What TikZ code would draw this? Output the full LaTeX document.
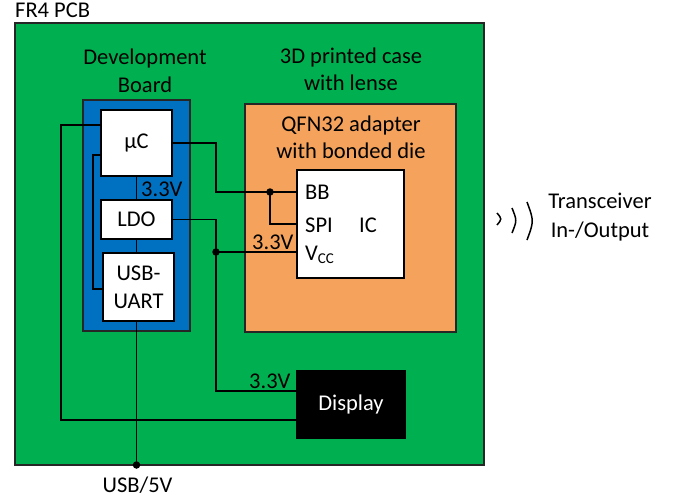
\documentclass[tikz,border=0pt]{standalone}
\usepackage{fontspec}
\setmainfont{Carlito}
\definecolor{pcbgreen}{HTML}{00B050}
\definecolor{boardblue}{HTML}{0070C0}
\definecolor{caseorange}{HTML}{F4A25C}
\begin{document}
\begin{tikzpicture}[x=1pt,y=-1pt,
  font=\fontsize{22.5}{28}\selectfont,
  wire/.style={draw=black, line width=1.6pt},
  area/.style={draw=black!85, line width=1.4pt, inner sep=0pt},
  box/.style={draw=black, fill=white, line width=1.2pt, align=center, inner sep=0pt},
  dot/.style={circle, fill=black, inner sep=0pt, minimum size=7.5pt},
  lbl/.style={inner sep=0pt, anchor=base west},
  clbl/.style={inner sep=0pt, anchor=base}]
\useasboundingbox (0,0) rectangle (677,499);
% areas
\node[area, fill=pcbgreen, minimum width=469pt, minimum height=442pt] (pcb) at (249.5,244) {};
\node[area, fill=boardblue, minimum width=107pt, minimum height=231pt] (board) at (136.5,215.5) {};
\node[area, fill=caseorange, minimum width=211pt, minimum height=228pt] (case) at (350.5,218) {};
% boxes
\node[box, minimum width=71pt, minimum height=66pt] (mc) at (136.5,143) {µC};
\node[box, minimum width=71pt, minimum height=39pt] (ldo) at (136.5,219.5) {LDO};
\node[box, minimum width=71pt, minimum height=68pt] (usb) at (138.5,287) {USB-\\UART};
\node[box, minimum width=107pt, minimum height=108pt] (ic) at (350.5,224) {};
\node[box, fill=black, text=white, minimum width=108pt, minimum height=67pt] (disp) at (351,404.5) {Display};
% texts
\node[lbl] (t1) at (15,17) {FR4 PCB};
\node[clbl] (t2) at (145,64) {Development};
\node[clbl] (t3) at (145,92) {Board};
\node[clbl] (t4) at (351,63) {3D printed case};
\node[clbl] (t5) at (351,90) {with lense};
\node[clbl] (t6) at (351,131.5) {QFN32 adapter};
\node[clbl] (t7) at (351,158.5) {with bonded die};
\node[lbl] (pbb) at (305,199) {BB};
\node[lbl] (pspi) at (305,232) {SPI};
\node[lbl] (pic) at (359,232) {IC};
\node[lbl] (pvcc) at (305,260) {V\raisebox{-0.35ex}{\fontsize{15}{15}\selectfont CC}};
\node[lbl] (v1) at (141,196) {3.3V};
\node[lbl] (v2) at (252,249) {3.3V};
\node[lbl] (v3) at (249,388) {3.3V};
\node[clbl] (tr1) at (600,208) {Transceiver};
\node[clbl] (tr2) at (600,237) {In-/Output};
\node[clbl] (u5) at (137.5,492) {USB/5V};
% wires
\coordinate (j1) at (61,125);
\coordinate (j2) at (61,420);
\draw[wire] (mc.west |- j1) -- (j1) -- (j2) -- (disp.west |- j2);
\coordinate (k1) at (93,155);
\coordinate (k2) at (93,289);
\draw[wire] (mc.west |- k1) -- (k1) -- (k2) -- (usb.west |- k2);
\draw[wire] (mc.south) -- (ldo.north);
\draw[wire] (ldo.south) -- (ldo.south |- usb.north);
\coordinate (usbpin) at (136.5,465);
\draw[wire] (usbpin |- usb.south) -- (usbpin);
\node[dot] (usbdot) at (usbpin) {};
\coordinate (m2) at (216,192);
\draw[wire] (mc.east) -- (mc.east -| m2) -- (m2) -- (ic.west |- m2);
\node[dot] (bbdot) at (270,192) {};
\coordinate (s1) at (270,224);
\draw[wire] (bbdot.center) -- (s1) -- (ic.west |- s1);
\coordinate (l1) at (216,391);
\draw[wire] (ldo.east) -- (ldo.east -| l1) -- (l1) -- (disp.west |- l1);
\node[dot] (vdot) at (216,252) {};
\draw[wire] (vdot.center) -- (ic.west |- vdot);
% radio waves
\draw[line width=1.5pt] (497,213) .. controls (502,219) .. (497,225);
\draw[line width=1.5pt] (512,208) .. controls (517,220.5) .. (512,233);
\draw[line width=1.5pt] (527,202) .. controls (534,221) .. (527,240);
\end{tikzpicture}
\end{document}
